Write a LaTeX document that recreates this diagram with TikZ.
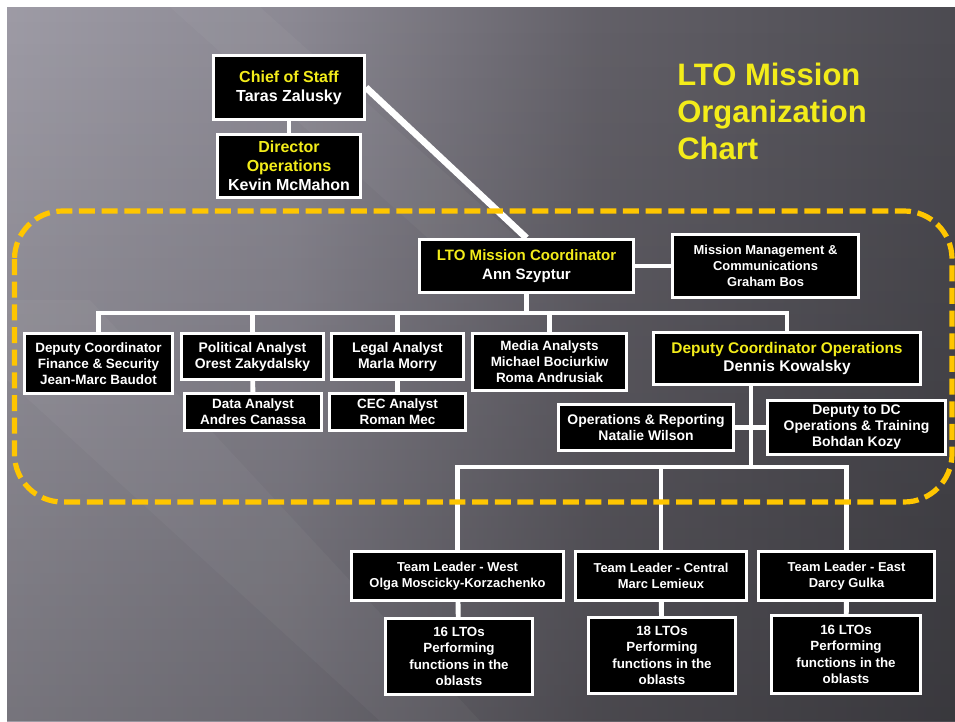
\documentclass[tikz,border=0pt]{standalone}
\usepackage{fontspec}
\setmainfont{Liberation Sans}
\usetikzlibrary{fadings}

\definecolor{chartyellow}{RGB}{243,236,26}
\definecolor{dashyellow}{RGB}{255,198,0}

\pgfdeclarelayer{bgl}
\pgfdeclarelayer{connl}
\pgfsetlayers{bgl,connl,main}

% slide backdrop: light grey on the left, charcoal on the right
\pgfdeclarehorizontalshading{slidebg}{100bp}{%
  rgb(0bp)=(.62,.61,.65); rgb(25bp)=(.62,.61,.65);
  rgb(40bp)=(.55,.54,.58); rgb(56bp)=(.39,.38,.41);
  rgb(75bp)=(.30,.295,.32); rgb(100bp)=(.30,.295,.32)}
\tikzfading[name=fadedown, top color=transparent!100, bottom color=transparent!0]

\newcommand\ylw[1]{\textcolor{chartyellow}{#1}}

% box from outer corner (x1,y1) to (x2,y2), measured in pixels
\newcommand\orgbox[7]{%
  \node[orgbox,#6,
        minimum width={(#4-#2-3)*0.75pt},
        minimum height={(#5-#3-3)*0.75pt}]
        (#1) at ({(#2+#4)/2},{(#3+#5)/2}) {#7};}

\tikzset{
  orgbox/.style={draw=white, line width=2.25pt, fill=black, text=white,
                 align=center, inner sep=0pt},
  tsixteen/.style={font=\bfseries\fontsize{12pt}{14.25pt}\selectfont},
  tfifteen/.style={font=\bfseries\fontsize{11.3pt}{13.8pt}\selectfont},
  tfifteenhalf/.style={font=\bfseries\fontsize{11.6pt}{13.7pt}\selectfont},
  tfourteen/.style={font=\bfseries\fontsize{10.45pt}{12pt}\selectfont},
  tthirteenhalf/.style={font=\bfseries\fontsize{10.1pt}{12pt}\selectfont},
  tthirteen/.style={font=\bfseries\fontsize{9.7pt}{12pt}\selectfont},
  tlto/.style={font=\bfseries\fontsize{10pt}{12.2pt}\selectfont},
  conn/.style={draw=white, line width=3.7pt},
  diagconn/.style={draw=white, line width=5pt},
  groupframe/.style={draw=dashyellow, line width=3.9pt,
                     dash pattern=on 12pt off 5pt, rounded corners=36pt},
}

\begin{document}
\begin{tikzpicture}[x=0.75pt,y=-0.75pt]
\useasboundingbox (0,0) rectangle (955,721);

\begin{pgfonlayer}{bgl}
  \fill[white] (0,0) rectangle (955,721);
  \shade[shading=slidebg] (7,7) rectangle (955,721);
  \fill[black, opacity=0.25, path fading=fadedown] (7,7) rectangle (955,721);
  % faint diagonal sheen
  \fill[white, opacity=0.035] (170,7) -- (260,7) -- (520,240) -- (430,240) -- cycle;
  \fill[white, opacity=0.035] (7,300) -- (90,300) -- (480,721) -- (380,721) -- (7,380) -- cycle;
\end{pgfonlayer}

% title
\node[font=\bfseries\fontsize{23.25pt}{27.75pt}\selectfont, text=chartyellow,
      align=left, anchor=north west, inner sep=0pt] (title) at (677,62.5)
      {LTO Mission\\Organization\\Chart};

% dashed frame around the mission staff
\draw[groupframe] (14.5,211) rectangle (952,502);

% boxes
\orgbox{chief}{212}{54}{366}{121}{tsixteen}{\ylw{Chief of Staff}\\Taras Zalusky}
\orgbox{dirops}{216}{133}{362}{199}{tsixteen}{\ylw{Director}\\\ylw{Operations}\\Kevin McMahon}
\orgbox{lto}{418}{238}{635}{294}{tfifteen}{\ylw{LTO Mission Coordinator}\\Ann Szyptur}
\orgbox{mmc}{671}{233}{860}{299}{tthirteen}{Mission Management \&\\Communications\\Graham Bos}
\orgbox{dcf}{23}{332}{174}{395}{tthirteenhalf}{Deputy Coordinator\\Finance \& Security\\Jean-Marc Baudot}
\orgbox{pol}{180}{332}{325}{381}{tfourteen}{Political Analyst\\Orest Zakydalsky}
\orgbox{legal}{330}{332}{465}{381}{tfourteen}{Legal Analyst\\Marla Morry}
\orgbox{data}{183}{392}{323}{432}{tthirteenhalf}{Data Analyst\\Andres Canassa}
\orgbox{cec}{328}{392}{467}{432}{tthirteenhalf}{CEC Analyst\\Roman Mec}
\orgbox{media}{471}{332}{628}{392}{tthirteenhalf}{Media Analysts\\Michael Bociurkiw\\Roma Andrusiak}
\orgbox{dco}{652}{331}{922}{386}{tfifteenhalf}{\ylw{Deputy Coordinator Operations}\\Dennis Kowalsky}
\orgbox{ops}{557}{403}{735}{452}{tfourteen}{Operations \& Reporting\\Natalie Wilson}
\orgbox{ddc}{766}{399}{947}{456}{tfourteen}{Deputy to DC\\Operations \& Training\\Bohdan Kozy}
\orgbox{tlw}{350}{550}{565}{602}{tthirteen}{Team Leader - West\\Olga Moscicky-Korzachenko}
\orgbox{tlc}{574}{550}{748}{602}{tthirteen}{Team Leader - Central\\Marc Lemieux}
\orgbox{tle}{757}{550}{936}{602}{tthirteen}{Team Leader - East\\Darcy Gulka}
\orgbox{ltow}{384}{617}{534}{696}{tlto}{16 LTOs\\Performing\\functions in the\\oblasts}
\orgbox{ltoc}{587}{616}{737}{695}{tlto}{18 LTOs\\Performing\\functions in the\\oblasts}
\orgbox{ltoe}{770}{614}{922}{695}{tlto}{16 LTOs\\Performing\\functions in the\\oblasts}

% bus lines
\coordinate (staffbus) at (0,313);
\coordinate (trunk) at (751,467);

\begin{pgfonlayer}{connl}
  \draw[conn] (chief) -- (dirops);
  \draw[diagconn] (chief.east) -- (lto.north);
  \draw[conn] (lto) -- (mmc);
  \draw[conn] (lto.south) -- (lto.south |- staffbus);
  \draw[conn] (dcf.north) -- (dcf.north |- staffbus) -- (dco.north |- staffbus) -- (dco.north);
  \draw[conn] (pol.north) -- (pol.north |- staffbus);
  \draw[conn] (legal.north) -- (legal.north |- staffbus);
  \draw[conn] (media.north) -- (media.north |- staffbus);
  \draw[conn] (pol) -- (data);
  \draw[conn] (legal) -- (cec);
  \draw[conn] (trunk |- dco.south) -- (trunk);
  \draw[conn] (ops) -- (ddc);
  \draw[conn] (tlw.north) -- (tlw.north |- trunk) -- (tle.north |- trunk) -- (tle.north);
  \draw[conn] (tlc.north) -- (tlc.north |- trunk);
  \draw[conn] (tlw) -- (ltow);
  \draw[conn] (tlc) -- (ltoc);
  \draw[conn] (tle) -- (ltoe);
\end{pgfonlayer}
\end{tikzpicture}
\end{document}
